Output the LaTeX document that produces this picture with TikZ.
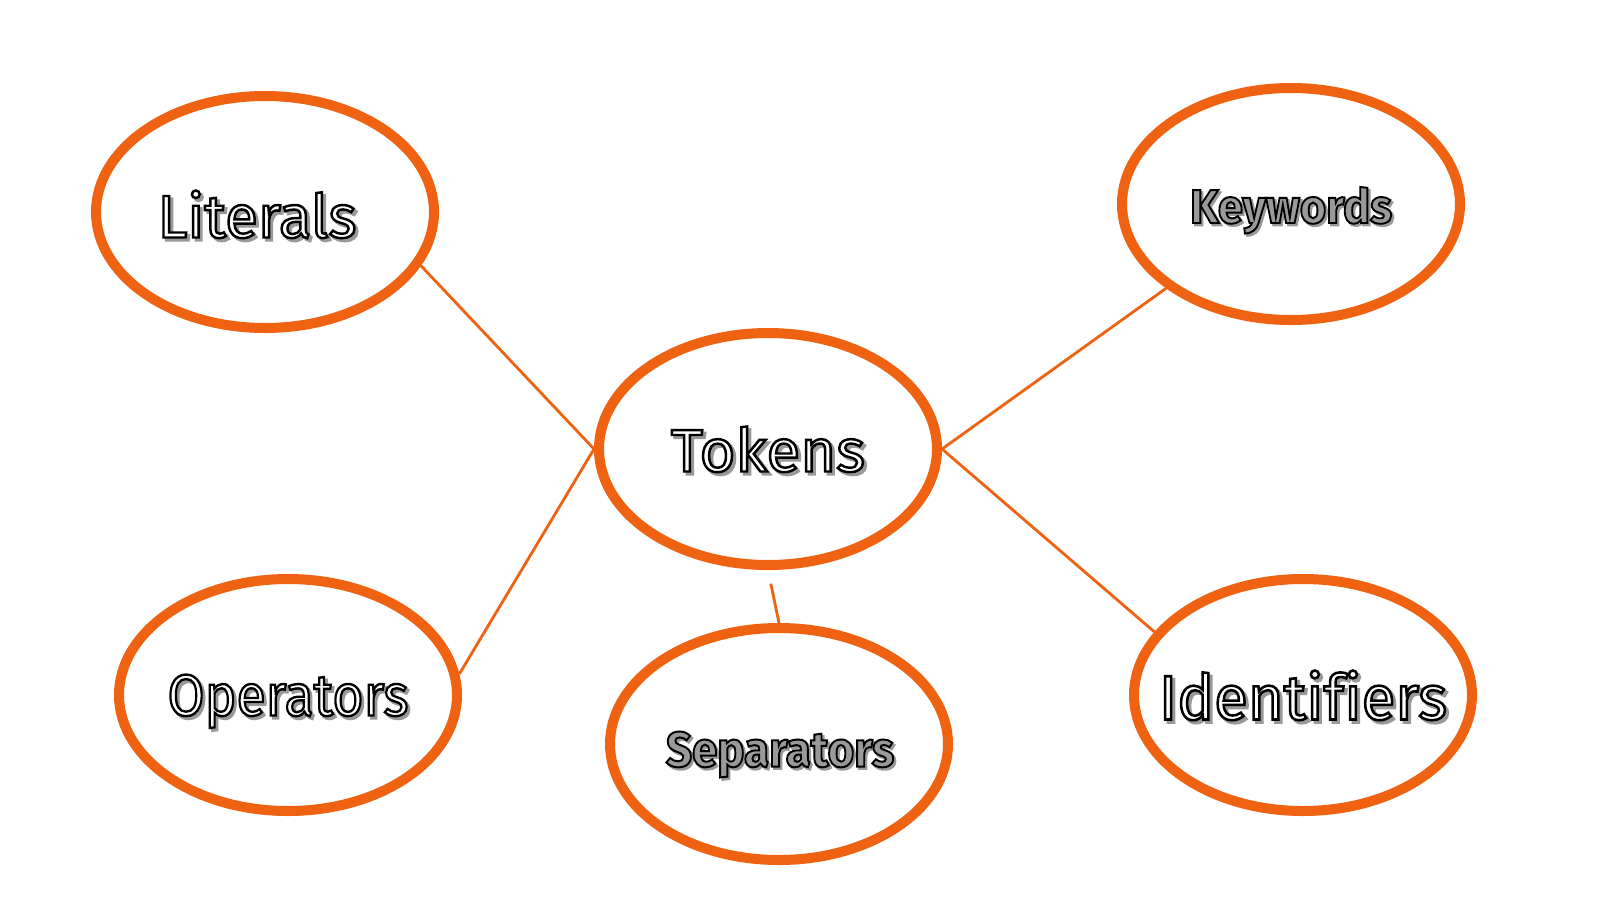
\documentclass[tikz,border=0pt]{standalone}
\usepackage{fontspec}
\setmainfont{Fira Sans}[Ligatures=NoCommon]
\usetikzlibrary{shapes.geometric}
\definecolor{ringc}{HTML}{EE6211}
\newcommand\shtext[2]{\leavevmode\rlap{\kern1.5pt\raisebox{-1.5pt}{\color{black!40}\special{pdf:literal direct 2 Tr 1.4 w}#2\special{pdf:literal direct 0 Tr}}}{\color{#1}\special{pdf:literal direct 0 G 2 Tr 1.3 w}#2\special{pdf:literal direct 0 Tr}}}
\newcommand\etxt[5]{\raisebox{-0.5\height}[0pt][0pt]{\resizebox{#1}{#2}{\fontsize{32}{36}\selectfont#4\shtext{#3}{#5}}}}
\begin{document}
\begin{tikzpicture}[x=0.5pt,y=-0.5pt,
  ring/.style={ellipse,draw=ringc,line width=5pt,minimum width=169pt,minimum height=116pt,inner sep=0pt},
  link/.style={draw=ringc,line width=1.4pt},
  lbl/.style={inner sep=0pt,outer sep=0pt}]
\fill[white] (0,0) rectangle (1600,900);
\path[use as bounding box] (0,0) rectangle (1600,900);
% ellipses
\node[ring] (tok) at (768,449) {};
\node[ring] (lit) at (265,212) {};
\node[ring] (kw)  at (1291,204) {};
\node[ring] (op)  at (288,695) {};
\node[ring] (sep) at (779,744) {};
\node[ring] (id)  at (1303,695) {};
% labels
\node[lbl] (toktxt) at (tok.center) {\etxt{97pt}{22.5pt}{white}{}{Tokens}};
\node[lbl] (littxt) at ([shift={(-8,2)}]lit.center) {\etxt{99.5pt}{23.5pt}{white}{}{Literals}};
\node[lbl] (kwtxt) at ([shift={(0,1)}]kw.center) {\etxt{101pt}{18pt}{black!40}{\bfseries}{Keywords}};
\node[lbl] (optxt) at (op.center) {\etxt{120.5pt}{20.5pt}{white}{}{Operators}};
\node[lbl] (septxt) at ([shift={(1,5)}]sep.center) {\etxt{114pt}{17.5pt}{black!40}{\bfseries}{Separators}};
\node[lbl] (idtxt) at (id.center) {\etxt{144pt}{24.5pt}{white}{}{Identifiers}};
% connectors
\draw[link] (lit.-19.6) -- (tok.west);
\draw[link] (tok.west) -- (op.7);
\draw[link] (tok.east) -- (kw.-146.7);
\draw[link] (tok.east) -- (id.157.5);
\draw[link,shorten <=7pt] (tok.south) -- (sep.north);
\end{tikzpicture}
\end{document}
